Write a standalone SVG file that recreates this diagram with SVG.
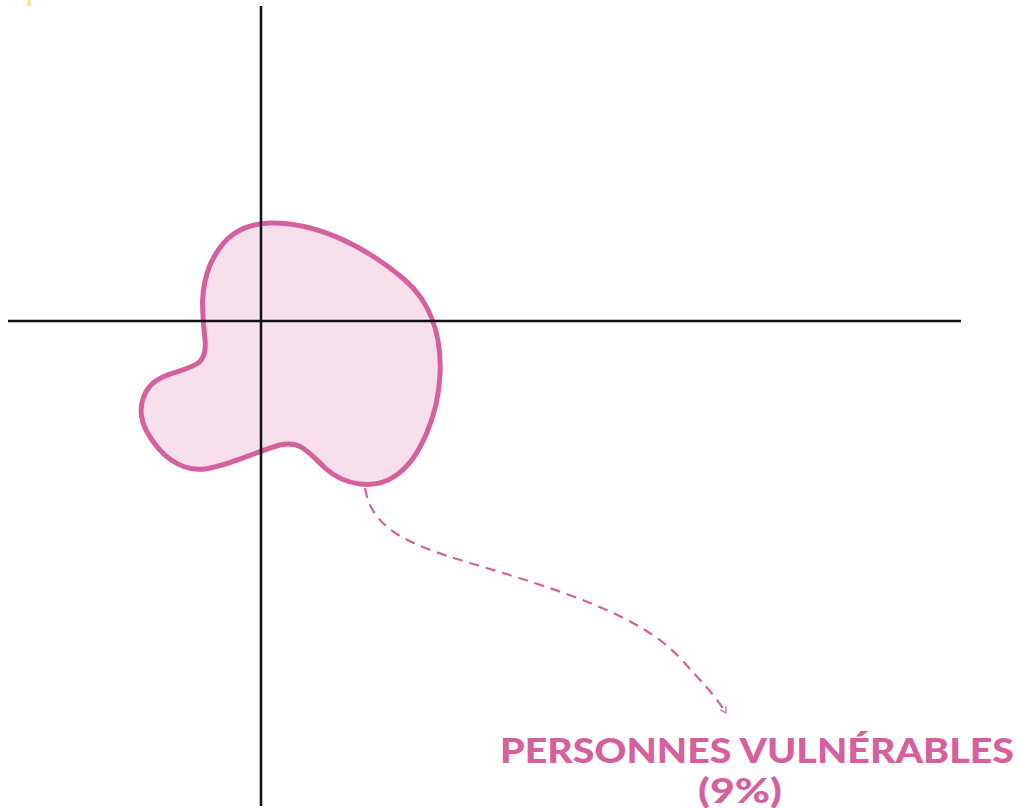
<svg xmlns="http://www.w3.org/2000/svg" width="1019" height="808" viewBox="0 0 1019 808">
<style>
.axis{stroke:#111;stroke-width:2.5;fill:none}
.fill{fill:#f7dfec;stroke:none}
.blob{fill:none;stroke:#d6609e;stroke-width:5}
.conn{fill:none;stroke:#d6609e;stroke-width:2.2;stroke-dasharray:10 7}
.lbl{font-family:Lato,"Liberation Sans",Arial,sans-serif;font-weight:900;fill:#d6609e}
</style>
<defs>
<path id="shape" d="M 270 223 C 320 222, 370 250, 405 280 C 430 302, 442 335, 440 375 C 438 415, 420 460, 395 476 C 375 490, 345 486, 325 468 C 308 452, 300 440, 280 445 C 255 452, 230 465, 205 469 C 180 472, 160 455, 147 432 C 135 410, 142 385, 165 376 C 190 366, 208 368, 205 340 C 202 310, 200 290, 210 265 C 222 238, 240 224, 270 223 Z"/>
<marker id="arr" viewBox="0 0 10 10" refX="8" refY="5" markerWidth="8" markerHeight="8" orient="auto" markerUnits="userSpaceOnUse">
<path d="M1 1 L8 5 L1 9" fill="none" stroke="#d6609e" stroke-width="1.6"/>
</marker>
</defs>
<rect x="27" y="0" width="4" height="6" fill="#fbe7a0"/>
<g id="zone">
<use href="#shape" class="fill"/>
<use href="#shape" class="blob"/>
</g>
<g id="axes">
<line class="axis" x1="261" y1="6" x2="261" y2="806"/>
<line class="axis" x1="8" y1="321" x2="961" y2="321"/>
</g>
<g id="connectors">
<path class="conn" marker-end="url(#arr)" d="M 365 488 C 372 530, 410 545, 470 563 C 560 590, 640 615, 680 658 C 700 680, 715 695, 726 713"/>
</g>
<g id="label">
<text class="lbl" x="500" y="763" font-size="35" textLength="514" lengthAdjust="spacingAndGlyphs">PERSONNES VULNÉRABLES</text>
<text class="lbl" x="740" y="803" font-size="34" text-anchor="middle" textLength="84" lengthAdjust="spacingAndGlyphs">(9%)</text>
</g>
</svg>
